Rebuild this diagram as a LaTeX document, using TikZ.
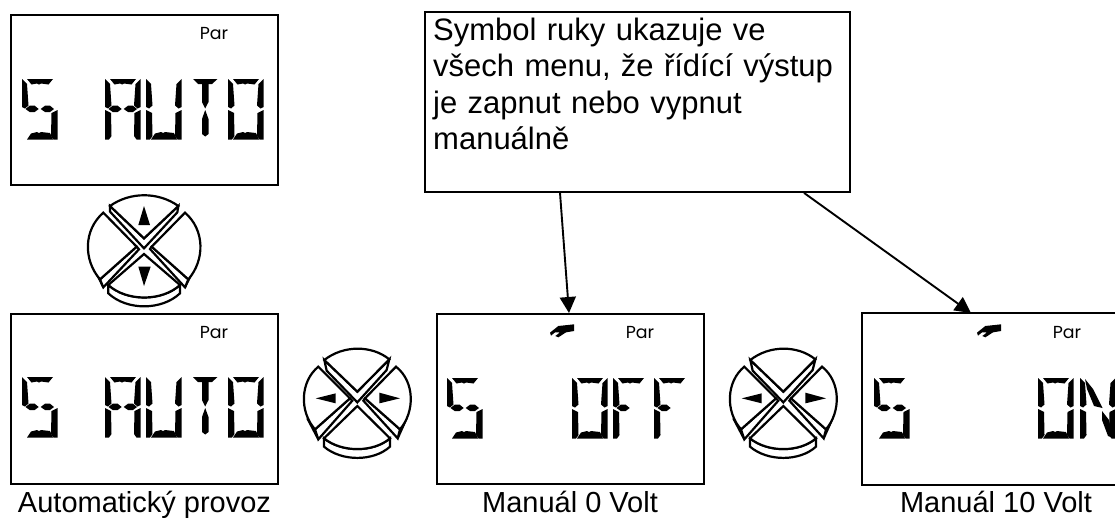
\documentclass[tikz,border=0pt]{standalone}
\usepackage{fontspec}
\setmainfont{Liberation Sans}
\newfontfamily\parfont{Poppins}
\usetikzlibrary{arrows.meta}
\tikzset{
  lcdbox/.style={draw=black,line width=1.9pt,minimum width=267pt,minimum height=170pt,inner sep=0pt,anchor=north west},
  lcdopen/.style={line width=1.9pt,draw=black},
  note/.style={draw=black,line width=1.9pt,minimum width=425pt,minimum height=180pt,inner sep=0pt,anchor=north west},
  notetext/.style={font=\fontsize{31}{36.5}\selectfont,align=left,anchor=north west,inner sep=0pt,text width=415pt},
  caption/.style={font=\fontsize{29}{32}\selectfont,anchor=base,inner sep=0pt},
  partext/.style={font=\parfont\fontsize{17.4}{20}\selectfont,anchor=center,inner sep=0pt},
  conn/.style={line width=1.9pt,-{Triangle[length=16pt,width=16pt]}},
  keyline/.style={line width=2.2pt,draw=black,line join=miter,fill=white},
  keyfill/.style={fill=black,draw=none},
}
\def\segtop{\fill (5,0)--(31,0)--(26.5,5.5)--(19,4.5)--(17,5.5)--(15,4.5)--(9.5,5.5)--cycle;}
\def\segbot{\fill (5,60.5)--(31,60.5)--(28,54)--(19,53)--(17,54)--(15,53)--(9,54.5)--cycle;}
\def\segul{\fill (0,0)--(5,5)--(6.5,26.5)--(3,29.5)--(0,28)--cycle;}
\def\segur{\fill (35.5,0)--(30.5,5)--(29,26.5)--(32.5,29.5)--(35.5,28)--cycle;}
\def\segll{\fill (0,31)--(6,34)--(6.5,57)--(4,60.5)--(0,60.5)--cycle;}
\def\seglr{\fill (35.5,31)--(29.5,34)--(29,57)--(31.5,60.5)--(35.5,60.5)--cycle;}
\def\segml{\fill (3.5,30)--(7.7,26.7)--(12.7,26.7)--(16.7,30)--(12.7,33)--(7.7,33)--cycle;}
\def\segmr{\fill (18.7,30)--(23,26.7)--(28,26.7)--(32,30)--(28,33)--(23,33)--cycle;}
\def\segttop{\fill (5,0)--(29.5,0)--(24,5)--(10,5)--cycle;}
\def\segcu{\fill (14,5)--(20.5,5)--(20.5,23)--(17.2,29.5)--(14,23)--cycle;}
\def\segcl{\fill (17.2,31)--(20.5,40)--(20.5,55)--(17.2,57.5)--(14,55)--(14,40)--cycle;}
\def\segdu{\fill (5,1)--(13,11)--(22.5,30)--(14,28)--(7,11)--cycle;}
\def\segdl{\fill (22,33)--(29,42)--(33,60)--(28,58)--(22,42)--cycle;}
\newcommand\lcdglyph[3]{\begin{scope}[shift={(#1,#2)}]#3\end{scope}}
\def\dgfive{\segtop\segul\segml\segmr\seglr\segbot}
\def\dgA{\segtop\segul\segur\segml\segmr\segll\seglr}
\def\dgU{\segul\segur\segll\seglr\segbot}
\def\dgT{\segttop\segcu\segcl}
\def\dgO{\segtop\segul\segur\segll\seglr\segbot}
\def\dgF{\segtop\segul\segml\segll}
\def\dgN{\segul\segur\segll\seglr\segdu\segdl}
\newcommand\lcdauto[2]{%
  \lcdglyph{#1+22}{#2+79}{\dgfive}
  \lcdglyph{#1+105}{#2+79}{\dgA}
  \lcdglyph{#1+146}{#2+79}{\dgU}
  \lcdglyph{#1+188}{#2+79}{\dgT}
  \lcdglyph{#1+228}{#2+79}{\dgO}}
\newcommand\handicon[1]{%
  \begin{scope}[shift={(#1,280)},scale=1/3]
    \fill (360,158)--(385,138)--(432,133)--(432,153)--(408,157)--(385,172)--(376,168)--(390,157)--(375,157)--(363,167)--cycle;
  \end{scope}}
\newcommand\keypadUD[2]{%
  \begin{scope}[shift={(#1,#2)},scale=1/3]
    % top key
    \draw[keyline] (120,78)--(120,95)--(222,205)--(322,97)--(325,78)--(222,175)--cycle;
    \draw[keyline] (120,78) .. controls (180,35) and (265,35) .. (325,78) -- (222,175) -- cycle;
    % bottom key
    \draw[keyline] (115,315)--(115,340) .. controls (170,392) and (275,392) .. (330,340) -- (330,315) .. controls (275,365) and (170,365) .. (115,315) -- cycle;
    \draw[keyline] (115,315)--(222,222)--(330,315) .. controls (275,365) and (170,365) .. (115,315) -- cycle;
    % left key
    \draw[keyline] (65,250)--(100,322)--(90,298) -- cycle;
    \draw[keyline] (100,322)--(207,208)--(200,200)--(90,298)--cycle;
    \draw[keyline] (100,98) .. controls (40,150) and (40,240) .. (90,298) -- (200,200) -- cycle;
    % right key
    \draw[keyline] (380,250)--(345,322)--(355,298) -- cycle;
    \draw[keyline] (345,322)--(240,207)--(245,200)--(355,298)--cycle;
    \draw[keyline] (345,98) .. controls (405,150) and (405,240) .. (355,298) -- (245,200) -- cycle;
    % arrows
    \fill[keyfill] (222,78)--(205,135)--(240,135)--cycle;
    \fill[keyfill] (222,318)--(205,260)--(242,260)--cycle;
  \end{scope}}
\newcommand\keypadLR[2]{%
  \begin{scope}[shift={(#1,#2)},scale=1/3]
    % top key
    \draw[keyline] (163,90)--(170,122)--(262,217)--(350,120)--(358,88)--(262,185)--cycle;
    \draw[keyline] (163,90) .. controls (220,45) and (305,45) .. (358,88) -- (262,185) -- cycle;
    % bottom key
    \draw[keyline] (162,325)--(162,350) .. controls (215,395) and (310,395) .. (360,350) -- (360,325) .. controls (310,368) and (215,368) .. (162,325) -- cycle;
    \draw[keyline] (162,325)--(262,228)--(360,325) .. controls (310,368) and (215,368) .. (162,325) -- cycle;
    % left key
    \draw[keyline] (112,265)--(145,328)--(135,298) -- cycle;
    \draw[keyline] (145,328)--(247,212)--(240,205)--(135,298)--cycle;
    \draw[keyline] (145,110) .. controls (90,155) and (88,245) .. (135,298) -- (240,205) -- cycle;
    % right key
    \draw[keyline] (410,265)--(383,325)--(390,298) -- cycle;
    \draw[keyline] (383,325)--(280,212)--(285,205)--(390,298)--cycle;
    \draw[keyline] (378,110) .. controls (435,155) and (435,245) .. (390,298) -- (285,205) -- cycle;
    % arrows
    \fill[keyfill] (137,205)--(197,190)--(197,220)--cycle;
    \fill[keyfill] (390,205)--(328,188)--(328,220)--cycle;
  \end{scope}}
\begin{document}
\begin{tikzpicture}[x=1pt,y=-1pt]
\useasboundingbox (0,0) rectangle (1115,519);
\clip (0,0) rectangle (1115,519);
% LCD boxes
\node[lcdbox] (lcdtop) at (10,14) {};
\node[lcdbox] (lcdauto) at (10,313) {};
\node[lcdbox] (lcdoff) at (436,313) {};
\node[lcdbox,draw=none,minimum width=253pt] (lcdon) at (862,313) {};
\draw[lcdopen] (lcdon.north east)--(lcdon.north west)--(lcdon.south west)--(lcdon.south east);
% Note
\node[note] (notebox) at (424,11) {};
\node[notetext] (notelabel) at (433,17.5) {Symbol ruky ukazuje ve\\všech menu, že řídící výstup\\je zapnut nebo vypnut\\manuálně};
% Connectors
\draw[conn] ([xshift=136pt]notebox.south west) -- ([xshift=133pt]lcdoff.north west);
\draw[conn] ([xshift=380pt]notebox.south west) -- ([xshift=109pt]lcdon.north west);
% LCD contents
\lcdauto{0}{0}
\lcdauto{0}{298}
\lcdglyph{447}{378}{\dgfive}
\lcdglyph{572}{378}{\dgO}
\lcdglyph{613}{378}{\dgF}
\lcdglyph{654}{378}{\dgF}
\lcdglyph{874}{378}{\dgfive}
\lcdglyph{1038}{378}{\dgO}
\lcdglyph{1080}{378}{\dgN}
\handicon{430}
\handicon{857}
\node[partext] (parA) at (214,34) {Par};
\node[partext] (parB) at (214,333) {Par};
\node[partext] (parC) at (640,333) {Par};
\node[partext] (parD) at (1067,333) {Par};
% Keypads
\keypadUD{70}{180}
\keypadLR{270}{330}
\keypadLR{696}{330}
% Captions
\node[caption] (capA) at (144.5,512.5) {Automatický provoz};
\node[caption] (capB) at (570,512.5) {Manuál 0 Volt};
\node[caption] (capC) at (996,512.5) {Manuál 10 Volt};
\end{tikzpicture}
\end{document}
